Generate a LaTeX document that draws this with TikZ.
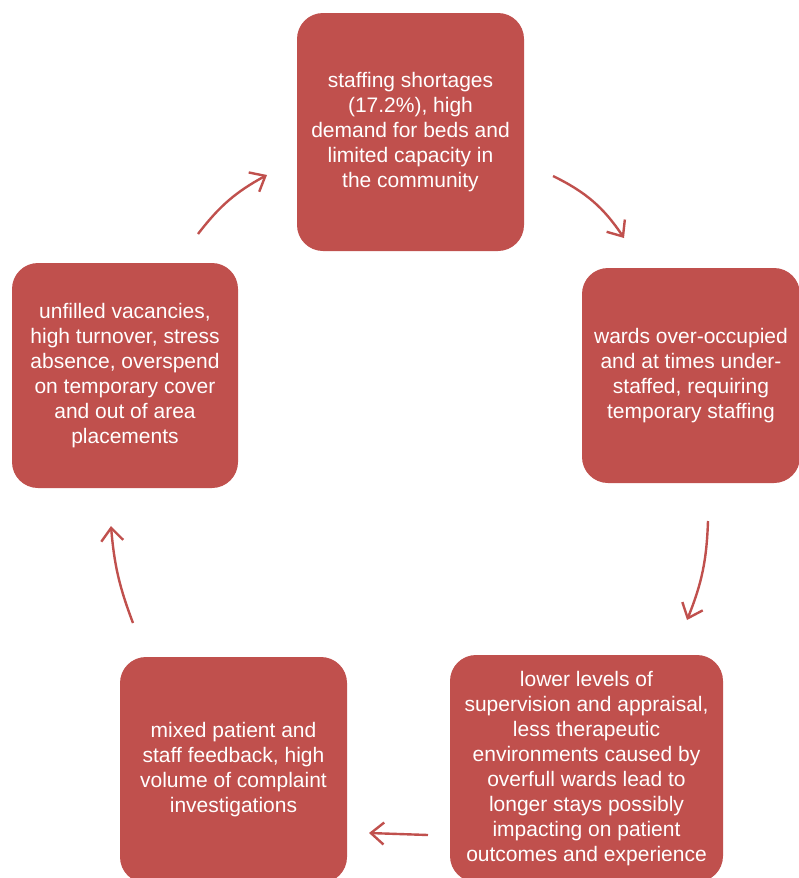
\documentclass[tikz,border=0pt]{standalone}
\usepackage{fontspec}
\setmainfont{Liberation Sans}
\usetikzlibrary{arrows.meta}
\definecolor{boxred}{HTML}{C0504D}

\begin{document}
\begin{tikzpicture}[x=1pt,y=-1pt,>={Straight Barb[length=13pt,width=22pt]},
  box/.style={fill=boxred,text=white,rounded corners=26pt,inner sep=0pt,align=center,
    font=\fontsize{21}{25}\selectfont},
  cyc/.style={color=boxred,line width=2.4pt}]
\useasboundingbox (0,0) rectangle (798,878);

\node[box,minimum width=227pt,minimum height=238pt] (short) at (410.5,132)
  {staffing shortages\\(17.2\%), high\\demand for beds and\\limited capacity in\\the community};
\node[box,minimum width=218pt,minimum height=215pt] (wards) at (691,375.5)
  {wards over-occupied\\and at times under-\\staffed, requiring\\temporary staffing};
\node[box,minimum width=273pt,minimum height=227pt] (care) at (586.5,768.5)
  {lower levels of\\supervision and appraisal,\\less therapeutic\\environments caused by\\overfull wards lead to\\longer stays possibly\\impacting on patient\\outcomes and experience};
\node[box,minimum width=227pt,minimum height=226pt] (feedback) at (233.5,770)
  {mixed patient and\\staff feedback, high\\volume of complaint\\investigations};
\node[box,minimum width=226pt,minimum height=225pt] (cost) at (125,375.5)
  {unfilled vacancies,\\high turnover, stress\\absence, overspend\\on temporary cover\\and out of area\\placements};

\coordinate (short_out) at (553,176);
\coordinate (wards_in) at (624,238);
\coordinate (wards_out) at (708,521);
\coordinate (care_in) at (687,620);
\coordinate (care_out) at (428,835);
\coordinate (feedback_in) at (369,833);
\coordinate (feedback_out) at (133,623);
\coordinate (cost_in) at (111,526);
\coordinate (cost_out) at (198,234);
\coordinate (short_in) at (267,175);

\path[cyc,->] (short_out) edge[bend left=15] (wards_in)
(wards_out) edge[bend left=10] (care_in)
(care_out) edge (feedback_in)
(feedback_out) edge[bend left=8] (cost_in)
(cost_out) edge[bend left=12] (short_in);
\end{tikzpicture}
\end{document}
